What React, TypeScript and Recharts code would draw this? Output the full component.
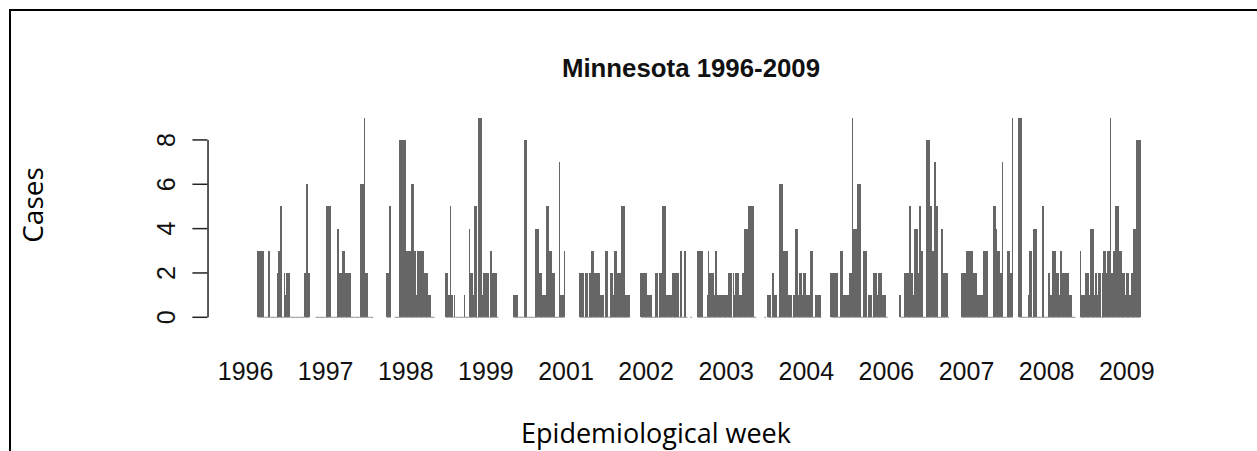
import { ComposedChart, Bar, Line, XAxis, YAxis, ReferenceLine } from "recharts";

// weekly case counts per season, null = week not reported
const s1996 = [3,3,3,3,3, 0,0,0,0, 3, 0,0,0,0,0,0, 2, 3, 5,5, 0, 2,1,2,2,2, 0,0,0,0,0,0,0,0,0,0,0, 2,2,6,2,2];
const s1997 = [0,0,0,0,0,0,0,0,0, 5,5,5,5, 0,0,0,0,0, 4, 2,2,2, 3,3, 2,2,2,2,2, 0,0,0,0,0,0,0, 6,6,6, 9, 2,2, 0,0,0,0,0];
const s1998 = [2,2, 5,5, null,null, 0,0,0,0, 8,8,8,8,8,8, 3,3,3,3, 6,6, 3,3, 1, 3,3, 3,3,3, 2,2,2, 1,1,1, 0,0,0];
const s1999 = [2,2, 1,1, 5, 1, 0, 1, 0,0,0,0,0,0,0, 1, 0,0,0, 4, 2,2, 1, 5,5, 0, 9,9,9, 1, 2,2,2,2,2, 0, 3, 2,2,2,2, 0, 0];
const s2000 = [1,1,1,1, 0,0,0,0,0, 8,8, 0,0,0,0,0,0,0, 4,4,4, 2,2, 1,1,1,1, 5,5, 3,3, 2,2,2, 0,0,0, 7, 1,1,1, 3];
const s2001 = [2,2,2,2, 0, 2,2, 0, 2,2, 3,3, 2,2,2,2,2, 1,1,1, 0, 3,3, 0,0, 2,2, 1, 3,3, 2,2,2,2, 5,5,5, 1,1,1,1];
const s2002 = [2,2,2,2,2, 1,1,1,1, 0,0,0, 2,2, 0, 2,2, 5,5,5, 1,1,1,1,1, 2,2,2,2,2,2, 0, 3, 0,0, 3, 0, 0, null, null, 0];
const s2003 = [3,3,3,3,3, 0,0,0, 1, 3, 2,2,2,2, 1, 3, 1,1,1,1,1,1,1,1,1, 2,2,2, 0, 2, 1, 2,2,2, 1,1, 2,2, 4,4,4, 5,5,5,5,5, 0,0, null,null,null,null,null,null, 0];
const s2004 = [1,1,1, 0, 2,2, 1,1, 0,0, 6,6,6, 3,3,3,3, 1,1,1, 0, 1,1, 4,4, 1, 2,2, 1, 2,2, 1,1,1,1, 3,3, 0,0, 1,1,1,1, 0];
const s2005 = [2,2,2,2,2,2, 0,0, 3,3, 1,1,1,1,1, 2,2, 9, 4,4,4, 6,6,6, 0,0, 3,3,3, 0, 1,1,1, 0, 2,2,2, 1, 2,2,2, 1,1,1, 0,0];
const s2006 = [1, 0,0,0, 2,2,2,2, 5, 2,2, 1, 4,4,4, 2, 5, 3,3, 0,0, 8,8,8, 5,5, 3,3, 7, 5,5, 0,0, 4,4, 2,2,2,2, 0];
const s2007 = [2,2,2,2, 3,3,3,3,3,3, 2,2,2, 1,1,1,1,1, 3,3,3,3, 0,0,0,0, 5,5, 4, 3,3, 2,2, 7, 0,0,0, 3,3, 2,2, 9];
const s2008 = [9,9,9, 0,0,0,0,0, 1, 3,3, 0, 4,4,4, 0,0,0,0, 5, 0,0,0,0, 2, 1,1, 3,3,3, 2,2, 1, 3,3, 2,2,2, 2,2, 1,1,1, 0,0,0];
const s2009 = [3, 1,1,1, 2,2,2, 1, 4,4,4, 1, 2,2, 1, 2,2, 0, 2, 3,3, 2, 3,3, 9, 2,2, 3, 5,5,5, 3,3,3, 2,2, 1, 2,2, 1,1, 2,2, 4,4, 8,8,8,8];

const seasons: (number | null)[][] = [s1996, s1997, s1998, s1999, s2000, s2001, s2002, s2003, s2004, s2005, s2006, s2007, s2008, s2009];
// missing weeks before each season, and after the last one
const missingBefore = [40, 4, 10, 8, 11, 11, 8, 4, 1, 7, 9, 9, 4, 3];
const missingAfter = 4;

const yearLabels = ["1996", "1997", "1998", "1999", "2001", "2002", "2003", "2004", "2006", "2007", "2008", "2009"];
const yearTickWeeks = [30, 94, 158, 222, 286, 350, 414, 478, 542, 606, 670, 734];
const caseTicks = [0, 2, 4, 6, 8];

const weekly: (number | null)[] = [];
seasons.forEach((s, k) => {
  for (let j = 0; j < missingBefore[k]; j++) weekly.push(null);
  weekly.push(...s);
});
for (let j = 0; j < missingAfter; j++) weekly.push(null);

const rows = weekly.map((v, i) => ({ i, cases: v, base: v === null ? null : 0 }));
const labelFor: Record<number, string> = {};
yearTickWeeks.forEach((w, k) => (labelFor[w] = yearLabels[k]));

const R_FONT = "'Liberation Sans', Arial, sans-serif";
const DOC_FONT = "'Open Sans', sans-serif";
const BAR_W = 1.5;

function YTick(props: any) {
  const { x, y, payload } = props;
  const bx = x - 15.5;
  return (
    <text x={bx} y={y} transform={`rotate(-90 ${bx} ${y})`} textAnchor="middle" fontSize={25} fontFamily={R_FONT} fill="#111">
      {payload.value}
    </text>
  );
}

// weekly bars are ~1.25px apart; crisp edges keep neighbouring bars solid like R's output
function WeekBar(props: any) {
  const { x, y, width, height } = props;
  if (!height || height <= 0) return <g />;
  return (
    <rect x={x + width / 2 - BAR_W / 2} y={y} width={BAR_W} height={height} fill="#666666" shapeRendering="crispEdges" />
  );
}

function BaseDot(props: any) {
  const { cx, cy, index } = props;
  const lone = weekly[index] !== null && weekly[index - 1] == null && weekly[index + 1] == null;
  if (!lone) return <g key={index} />;
  return <rect key={index} x={cx - 0.7} y={cy - 0.6} width={1.4} height={1.2} fill="#888" />;
}

export default function App() {
  return (
    <div style={{ position: "absolute", left: 0, top: 0, width: 1257, height: 451, overflow: "hidden", background: "#fff" }}>
      <div style={{ position: "absolute", left: 9, top: 9, width: 1300, height: 500, border: "2px solid #000" }} />
      <div style={{ position: "absolute", left: 0, top: 0 }}>
        <ComposedChart
          width={1257}
          height={451}
          data={rows}
          margin={{ top: 95.6, right: 110.85, bottom: 73.7, left: 0 }}
          barCategoryGap={0}
          barGap={0}
        >
          <XAxis
            dataKey="i"
            type="category"
            ticks={yearTickWeeks}
            interval={0}
            tickFormatter={(v) => labelFor[v] ?? ""}
            axisLine={false}
            tickLine={false}
            tickSize={0}
            tickMargin={45}
            height={60}
            tick={{ fontSize: 25, fill: "#111", fontFamily: R_FONT }}
          />
          <YAxis
            domain={[0, 10]}
            ticks={caseTicks}
            width={207.4}
            axisLine={false}
            tickLine={{ stroke: "#222", strokeWidth: 1.5 }}
            tickSize={15}
            tick={<YTick />}
          />
          <ReferenceLine segment={[{ x: 0, y: 0 }, { x: 0, y: 8 }]} stroke="#222" strokeWidth={1.5} ifOverflow="visible" />
          <Bar dataKey="cases" fill="#666666" shape={<WeekBar />} isAnimationActive={false} />
          <Line dataKey="base" stroke="#8a8a8a" strokeWidth={1} dot={(p: any) => <BaseDot key={p.index} {...p} />} activeDot={false} isAnimationActive={false} />
        </ComposedChart>
      </div>
      <svg width={1257} height={451} style={{ position: "absolute", left: 0, top: 0, pointerEvents: "none" }}>
        <text x={691} y={76.7} textAnchor="middle" fontSize={25.8} fontWeight="bold" fontFamily={R_FONT} fill="#111">
          Minnesota 1996-2009
        </text>
        <text x={43} y={205} transform="rotate(-90 43 205)" textAnchor="middle" fontSize={28} fontFamily={DOC_FONT} fill="#000">
          Cases
        </text>
        <text x={656} y={443} textAnchor="middle" fontSize={27} fontFamily={DOC_FONT} fill="#000">
          Epidemiological week
        </text>
      </svg>
    </div>
  );
}
